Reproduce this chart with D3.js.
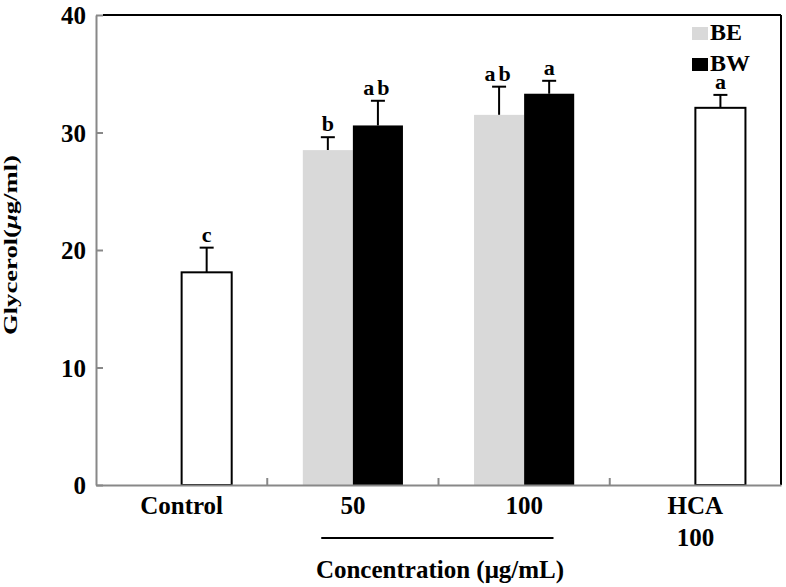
<!DOCTYPE html>
<html>
<head>
<meta charset="utf-8">
<script src="https://cdn.jsdelivr.net/npm/d3@7"></script>
<style>
  body { margin: 0; background: #fff; }
</style>
</head>
<body>
<div id="chart"></div>
<script>
// chart data
const categories = ['Control', '50', '100', 'HCA'];
const categoryLines = [['Control'], ['50'], ['100'], ['HCA', '100']];
const series = ['BE', 'BW'];
const beMeans = [null, 28.5, 31.5, null];
const beErrors = [null, 1.1, 2.4, null];
const beLetters = [null, 'b', 'ab', null];
const bwMeans = [null, 30.6, 33.3, null];
const bwErrors = [null, 2.1, 1.1, null];
const bwLetters = [null, 'ab', 'a', null];
const refMeans = [18.1, null, null, 32.1];
const refErrors = [2.1, null, null, 1.1];
const refLetters = ['c', null, null, 'a'];
const yTicks = [0, 10, 20, 30, 40];

const W = 786, H = 587;
const margin = { top: 15, right: 5, bottom: 102, left: 96 };
const FONT = "'Liberation Serif', 'Times New Roman', 'DejaVu Serif', serif";

const svg = d3.select('#chart').append('svg')
  .attr('width', W)
  .attr('height', H)
  .attr('font-family', FONT)
  .attr('font-weight', 'bold');

const x = d3.scaleBand()
  .domain(categories)
  .range([margin.left, W - margin.right])
  .paddingInner(0)
  .paddingOuter(0);

const xSub = d3.scaleBand()
  .domain(series)
  .range([0, x.bandwidth()])
  .paddingInner(0)
  .paddingOuter(0.71);

const y = d3.scaleLinear()
  .domain([0, 40])
  .range([H - margin.bottom, margin.top]);

const colors = { BE: '#d9d9d9', BW: '#000000' };

// build bar records
const bars = [];
categories.forEach((c, i) => {
  if (beMeans[i] != null) bars.push({ cat: c, slot: 'BE', v: beMeans[i], e: beErrors[i], l: beLetters[i], fill: colors.BE, stroke: 'none' });
  if (bwMeans[i] != null) bars.push({ cat: c, slot: 'BW', v: bwMeans[i], e: bwErrors[i], l: bwLetters[i], fill: colors.BW, stroke: 'none' });
  if (refMeans[i] != null) bars.push({ cat: c, slot: 'BW', v: refMeans[i], e: refErrors[i], l: refLetters[i], fill: '#fff', stroke: '#000' });
});

const cx = d => x(d.cat) + xSub(d.slot) + xSub.bandwidth() / 2;
const g = svg.append('g');

// error bars (upper only)
const err = g.selectAll('.err').data(bars).enter().append('g');
err.append('line')
  .attr('x1', cx).attr('x2', cx)
  .attr('y1', d => y(d.v))
  .attr('y2', d => y(d.v + d.e))
  .attr('stroke', '#000').attr('stroke-width', 2);
err.append('line')
  .attr('x1', d => cx(d) - 7)
  .attr('x2', d => cx(d) + 7)
  .attr('y1', d => y(d.v + d.e))
  .attr('y2', d => y(d.v + d.e))
  .attr('stroke', '#000').attr('stroke-width', 2);

g.selectAll('.bar').data(bars).enter().append('rect')
  .attr('class', 'bar')
  .attr('x', d => x(d.cat) + xSub(d.slot))
  .attr('y', d => y(d.v))
  .attr('width', xSub.bandwidth())
  .attr('height', d => y(0) - y(d.v))
  .attr('fill', d => d.fill)
  .attr('stroke', d => d.stroke)
  .attr('stroke-width', 2);

// significance letters
g.selectAll('.sig').data(bars).enter().append('text')
  .attr('x', cx)
  .attr('y', d => y(d.v + d.e) - 6)
  .attr('text-anchor', 'middle')
  .attr('font-size', 22)
  .attr('letter-spacing', d => d.l.length > 1 ? 3 : 0)
  .text(d => d.l);

// frame: top and right black
svg.append('line')
  .attr('x1', margin.left + 7).attr('x2', W - margin.right)
  .attr('y1', y(40)).attr('y2', y(40))
  .attr('stroke', '#000').attr('stroke-width', 2);
svg.append('line')
  .attr('x1', W - margin.right).attr('x2', W - margin.right)
  .attr('y1', y(40)).attr('y2', y(0))
  .attr('stroke', '#000').attr('stroke-width', 2);

// y axis (gray, inward ticks)
const yAxis = svg.append('g')
  .attr('transform', `translate(${margin.left},0)`)
  .call(d3.axisRight(y).tickValues(yTicks).tickSize(7).tickSizeOuter(0).tickFormat(''));
yAxis.selectAll('path, line').attr('stroke', '#888').attr('stroke-width', 2);
yAxis.selectAll('.tick').append('text')
  .attr('x', -10).attr('dy', '0.35em')
  .attr('text-anchor', 'end')
  .attr('font-size', 25)
  .attr('font-family', FONT)
  .attr('fill', '#000')
  .text(d => d);

// x axis (gray, ticks between groups pointing up)
const xAxis = svg.append('g')
  .attr('transform', `translate(0,${y(0)})`)
  .call(d3.axisBottom(x).tickSize(0).tickSizeOuter(0).tickFormat(''));
xAxis.select('.domain').attr('stroke', '#888').attr('stroke-width', 2);
svg.append('g').selectAll('line').data(categories.slice(1)).enter().append('line')
  .attr('x1', d => x(d)).attr('x2', d => x(d))
  .attr('y1', y(0)).attr('y2', y(0) - 7)
  .attr('stroke', '#888').attr('stroke-width', 2);

// category labels
const catLabels = svg.append('g').selectAll('text').data(categories).enter().append('text')
  .attr('y', y(0) + 29)
  .attr('text-anchor', 'middle')
  .attr('font-size', 25);
catLabels.each(function (d, i) {
  const t = d3.select(this);
  categoryLines[i].forEach((s, k) => {
    t.append('tspan').attr('x', x(d) + x.bandwidth() / 2).attr('dy', k === 0 ? 0 : 32).text(s);
  });
});

// bracket under the concentration groups
svg.append('line')
  .attr('x1', x('50') + 54).attr('x2', x('100') + 115)
  .attr('y1', 538).attr('y2', 538)
  .attr('stroke', '#000').attr('stroke-width', 2);

// axis titles
svg.append('text')
  .attr('x', 440).attr('y', 578)
  .attr('text-anchor', 'middle')
  .attr('font-size', 25)
  .text('Concentration (μg/mL)');

svg.append('text')
  .attr('transform', `translate(17,245) rotate(-90)`)
  .attr('text-anchor', 'middle')
  .attr('font-size', 19)
  .attr('textLength', 180)
  .attr('lengthAdjust', 'spacingAndGlyphs')
  .html('Glycerol(<tspan font-style="italic">μ</tspan>g/ml)');

// legend
const legend = svg.append('g').selectAll('g').data(series).enter().append('g')
  .attr('transform', (d, i) => `translate(692,${27 + i * 31})`);
legend.append('rect')
  .attr('width', 16).attr('height', 13)
  .attr('fill', d => colors[d]);
legend.append('text')
  .attr('x', 18).attr('y', 13)
  .attr('font-size', 24)
  .text(d => d);
</script>
</body>
</html>
